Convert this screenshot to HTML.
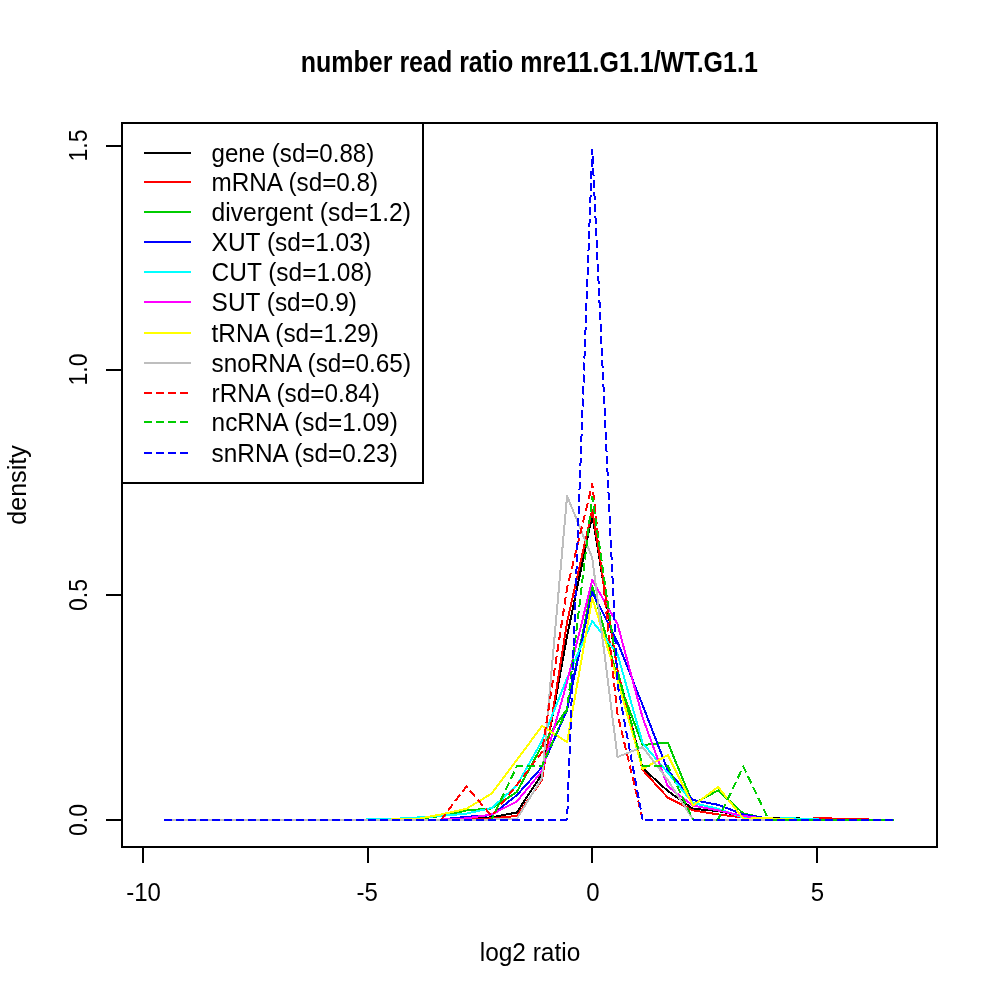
<!DOCTYPE html>
<html><head><meta charset="utf-8"><title>number read ratio mre11.G1.1/WT.G1.1</title>
<style>
html,body{margin:0;padding:0;background:#fff;}
body{width:1000px;height:1000px;overflow:hidden;}
svg{display:block;}
text{font-family:"Liberation Sans",sans-serif;fill:#000;}
.ax{stroke:#000;stroke-width:2;fill:none;shape-rendering:crispEdges;}
.cv{fill:none;stroke-width:2;stroke-linejoin:round;stroke-linecap:butt;shape-rendering:crispEdges;}
.t{font-size:25px;}
</style></head><body>
<svg width="1000" height="1000" viewBox="0 0 1000 1000">
<rect width="1000" height="1000" fill="#fff"/>
<text x="529.3" y="72" text-anchor="middle" font-size="30" font-weight="bold" textLength="457" lengthAdjust="spacingAndGlyphs">number read ratio mre11.G1.1/WT.G1.1</text>
<polyline class="cv" stroke="#000000" points="164.4,819.5 189.6,819.5 214.7,819.5 239.9,819.5 265.1,819.5 290.2,819.5 315.4,819.5 340.6,819.5 365.8,819.5 390.9,819.5 416.1,819.5 441.3,819.5 466.4,819.5 491.6,817.3 516.8,812.5 542.0,774.0 567.1,636.0 592.3,515.0 617.5,670.0 642.6,768.0 667.8,791.0 693.0,808.8 718.1,811.0 743.3,816.5 768.5,818.0 793.6,818.2 818.8,819.5 844.0,819.5 869.2,819.5 894.3,819.5"/>
<polyline class="cv" stroke="#ff0000" points="164.4,819.5 189.6,819.5 214.7,819.5 239.9,819.5 265.1,819.5 290.2,819.5 315.4,819.5 340.6,819.5 365.8,819.5 390.9,819.5 416.1,819.5 441.3,819.5 466.4,819.5 491.6,818.4 516.8,816.0 542.0,780.0 567.1,622.0 592.3,510.0 617.5,670.0 642.6,770.0 667.8,797.6 693.0,810.4 718.1,814.4 743.3,817.6 768.5,818.8 793.6,819.2 818.8,818.3 844.0,818.7 869.2,819.5 894.3,819.5"/>
<polyline class="cv" stroke="#00cd00" points="164.4,819.5 189.6,819.5 214.7,819.5 239.9,819.5 265.1,819.5 290.2,819.5 315.4,819.5 340.6,819.5 365.8,819.5 390.9,819.5 416.1,819.0 441.3,816.0 466.4,810.4 491.6,808.5 516.8,792.0 542.0,745.6 567.1,709.0 592.3,586.0 617.5,678.0 642.6,745.0 667.8,742.5 693.0,804.0 718.1,790.4 743.3,813.5 768.5,819.0 793.6,819.5 818.8,819.5 844.0,819.5 869.2,819.5 894.3,819.5"/>
<polyline class="cv" stroke="#0000ff" points="164.4,819.5 189.6,819.5 214.7,819.5 239.9,819.5 265.1,819.5 290.2,819.5 315.4,819.5 340.6,819.5 365.8,819.5 390.9,819.5 416.1,819.5 441.3,819.5 466.4,816.8 491.6,815.2 516.8,795.2 542.0,767.2 567.1,710.0 592.3,592.0 617.5,642.0 642.6,705.0 667.8,770.4 693.0,800.0 718.1,804.8 743.3,814.4 768.5,818.5 793.6,819.5 818.8,819.5 844.0,819.5 869.2,819.5 894.3,819.5"/>
<polyline class="cv" stroke="#00ffff" points="164.4,819.5 189.6,819.5 214.7,819.5 239.9,819.5 265.1,819.5 290.2,819.5 315.4,819.5 340.6,819.5 365.8,819.5 390.9,819.0 416.1,817.6 441.3,816.0 466.4,813.6 491.6,808.0 516.8,785.6 542.0,740.8 567.1,678.0 592.3,621.0 617.5,654.0 642.6,743.0 667.8,772.8 693.0,803.0 718.1,808.8 743.3,817.6 768.5,818.6 793.6,818.4 818.8,819.5 844.0,819.5 869.2,819.5 894.3,819.5"/>
<polyline class="cv" stroke="#ff00ff" points="164.4,819.5 189.6,819.5 214.7,819.5 239.9,819.5 265.1,819.5 290.2,819.5 315.4,819.5 340.6,819.5 365.8,819.5 390.9,819.5 416.1,819.5 441.3,819.5 466.4,818.4 491.6,814.4 516.8,801.6 542.0,771.0 567.1,682.0 592.3,580.0 617.5,624.0 642.6,717.6 667.8,786.4 693.0,805.6 718.1,810.4 743.3,816.0 768.5,819.0 793.6,819.5 818.8,819.5 844.0,819.5 869.2,819.5 894.3,819.5"/>
<polyline class="cv" stroke="#ffff00" points="164.4,819.5 189.6,819.5 214.7,819.5 239.9,819.5 265.1,819.5 290.2,819.5 315.4,819.5 340.6,819.5 365.8,819.5 390.9,819.5 416.1,819.2 441.3,814.4 466.4,808.8 491.6,793.6 516.8,760.0 542.0,726.0 567.1,742.0 592.3,598.0 617.5,680.0 642.6,769.0 667.8,755.0 693.0,805.6 718.1,787.0 743.3,818.6 768.5,818.3 793.6,819.5 818.8,819.5 844.0,819.5 869.2,819.5 894.3,819.5"/>
<polyline class="cv" stroke="#bebebe" points="164.4,819.5 189.6,819.5 214.7,819.5 239.9,819.5 265.1,819.5 290.2,819.5 315.4,819.5 340.6,819.5 365.8,819.5 390.9,819.5 416.1,819.5 441.3,819.5 466.4,819.5 491.6,819.5 516.8,819.0 542.0,778.0 567.1,496.0 592.3,558.0 617.5,757.0 642.6,747.0 667.8,780.0 693.0,819.5 718.1,819.5 743.3,819.5 768.5,819.5 793.6,819.5 818.8,819.5 844.0,819.5 869.2,819.5 894.3,819.5"/>
<polyline class="cv" stroke="#ff0000" stroke-dasharray="8 4" points="164.4,819.5 189.6,819.5 214.7,819.5 239.9,819.5 265.1,819.5 290.2,819.5 315.4,819.5 340.6,819.5 365.8,819.5 390.9,819.5 416.1,819.5 441.3,819.5 466.4,786.4 491.6,816.0 516.8,785.0 542.0,752.0 567.1,588.0 592.3,484.0 617.5,714.0 642.6,819.5"/>
<line class="cv" stroke="#ff0000" stroke-dasharray="8 4" stroke-dashoffset="9.6" x1="642.6" y1="819.5" x2="894.3" y2="819.5"/>
<polyline class="cv" stroke="#00cd00" stroke-dasharray="8 4" points="164.4,819.5 189.6,819.5 214.7,819.5 239.9,819.5 265.1,819.5 290.2,819.5 315.4,819.5 340.6,819.5 365.8,819.5 390.9,819.5 416.1,819.5 441.3,819.5 466.4,819.5 491.6,819.5 516.8,766.4 542.0,766.0 567.1,709.0 592.3,497.0 617.5,670.0 642.6,766.0 667.8,766.0 693.0,819.5 718.1,819.5 743.3,766.4 768.5,819.5"/>
<line class="cv" stroke="#00cd00" stroke-dasharray="8 4" stroke-dashoffset="9.5" x1="768.5" y1="819.5" x2="894.3" y2="819.5"/>
<polyline class="cv" stroke="#0000ff" stroke-dasharray="8 4" points="164.4,819.5 189.6,819.5 214.7,819.5 239.9,819.5 265.1,819.5 290.2,819.5 315.4,819.5 340.6,819.5 365.8,819.5 390.9,819.5 416.1,819.5 441.3,819.5 466.4,819.5 491.6,819.5 516.8,819.5 542.0,819.5 567.1,819.5 592.3,149.5 617.5,684.0 642.6,819.5"/>
<line class="cv" stroke="#0000ff" stroke-dasharray="8 4" stroke-dashoffset="9.6" x1="642.6" y1="819.5" x2="894.3" y2="819.5"/>
<rect class="ax" x="122" y="123" width="815" height="724"/>
<path class="ax" d="M143 847H818 M143 847V863 M368 847V863 M592 847V863 M817 847V863"/>
<text class="t" transform="translate(143.5 900.5) scale(0.96 1)" text-anchor="middle">-10</text>
<text class="t" transform="translate(367.2 900.5) scale(0.96 1)" text-anchor="middle">-5</text>
<text class="t" transform="translate(592.9 900.5) scale(0.96 1)" text-anchor="middle">0</text>
<text class="t" transform="translate(817.4 900.5) scale(0.96 1)" text-anchor="middle">5</text>
<path class="ax" d="M122 820V146 M122 820H106 M122 595H106 M122 370H106 M122 146H106"/>
<text class="t" transform="translate(87 820.0) rotate(-90)" text-anchor="middle" textLength="32" lengthAdjust="spacingAndGlyphs">0.0</text>
<text class="t" transform="translate(87 595.0) rotate(-90)" text-anchor="middle" textLength="32" lengthAdjust="spacingAndGlyphs">0.5</text>
<text class="t" transform="translate(87 369.5) rotate(-90)" text-anchor="middle" textLength="32" lengthAdjust="spacingAndGlyphs">1.0</text>
<text class="t" transform="translate(87 145.5) rotate(-90)" text-anchor="middle" textLength="32" lengthAdjust="spacingAndGlyphs">1.5</text>
<text class="t" x="530" y="960.5" text-anchor="middle" textLength="100.5" lengthAdjust="spacingAndGlyphs">log2 ratio</text>
<text class="t" transform="translate(25.5 485) rotate(-90)" text-anchor="middle" textLength="79.5" lengthAdjust="spacingAndGlyphs">density</text>
<rect class="ax" x="122" y="123" width="301" height="360" fill="#fff" style="fill:#fff"/>
<line class="cv" stroke="#000000" x1="144" y1="153" x2="191" y2="153"/>
<text class="t" x="211.6" y="161.6" textLength="162.6" lengthAdjust="spacingAndGlyphs">gene (sd=0.88)</text>
<line class="cv" stroke="#ff0000" x1="144" y1="182" x2="191" y2="182"/>
<text class="t" x="211.6" y="190.6" textLength="166.6" lengthAdjust="spacingAndGlyphs">mRNA (sd=0.8)</text>
<line class="cv" stroke="#00cd00" x1="144" y1="212" x2="191" y2="212"/>
<text class="t" x="211.6" y="220.6" textLength="199.4" lengthAdjust="spacingAndGlyphs">divergent (sd=1.2)</text>
<line class="cv" stroke="#0000ff" x1="144" y1="242" x2="191" y2="242"/>
<text class="t" x="211.6" y="250.6" textLength="159.4" lengthAdjust="spacingAndGlyphs">XUT (sd=1.03)</text>
<line class="cv" stroke="#00ffff" x1="144" y1="272" x2="191" y2="272"/>
<text class="t" x="211.6" y="280.6" textLength="160.6" lengthAdjust="spacingAndGlyphs">CUT (sd=1.08)</text>
<line class="cv" stroke="#ff00ff" x1="144" y1="302" x2="191" y2="302"/>
<text class="t" x="211.6" y="310.6" textLength="145.4" lengthAdjust="spacingAndGlyphs">SUT (sd=0.9)</text>
<line class="cv" stroke="#ffff00" x1="144" y1="333" x2="191" y2="333"/>
<text class="t" x="211.6" y="341.6" textLength="167.4" lengthAdjust="spacingAndGlyphs">tRNA (sd=1.29)</text>
<line class="cv" stroke="#bebebe" x1="144" y1="363" x2="191" y2="363"/>
<text class="t" x="211.6" y="371.6" textLength="199.4" lengthAdjust="spacingAndGlyphs">snoRNA (sd=0.65)</text>
<line class="cv" stroke="#ff0000" stroke-dasharray="8 4" x1="144" y1="393" x2="191" y2="393"/>
<text class="t" x="211.6" y="401.6" textLength="168.2" lengthAdjust="spacingAndGlyphs">rRNA (sd=0.84)</text>
<line class="cv" stroke="#00cd00" stroke-dasharray="8 4" x1="144" y1="422" x2="191" y2="422"/>
<text class="t" x="211.6" y="430.6" textLength="186.2" lengthAdjust="spacingAndGlyphs">ncRNA (sd=1.09)</text>
<line class="cv" stroke="#0000ff" stroke-dasharray="8 4" x1="144" y1="453" x2="191" y2="453"/>
<text class="t" x="211.6" y="461.6" textLength="186.2" lengthAdjust="spacingAndGlyphs">snRNA (sd=0.23)</text>
</svg>
</body></html>
